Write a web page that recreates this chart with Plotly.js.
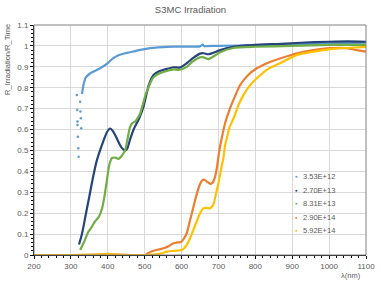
<!DOCTYPE html>
<html><head><meta charset="utf-8">
<script src="https://cdn.plot.ly/plotly-3.0.1.min.js"></script>
<style>html,body{margin:0;padding:0;background:#fff}#c{width:381px;height:283px}</style>
</head><body><div id="c"></div>
<script>
const names = ["3.53E+12","2.70E+13","8.31E+13","2.90E+14","5.92E+14"];
const colors = ["#5B9BD5","#264478","#70AD47","#ED7D31","#FFC000"];

const s1NoiseX = [316,317,318,318,319,320,321,325,326,327,328];
const s1NoiseY = [0.765,0.694,0.638,0.622,0.566,0.51,0.47,0.733,0.686,0.654,0.606];
const s1X = [330,335,340,345,352,360,370,379,390,400,406,415,425,433,445,455,469,485,500,515,530,560,600,650,658,662,666,700,800,900,1000,1100];
const s1Y = [0.77,0.82,0.848,0.858,0.868,0.876,0.885,0.893,0.905,0.918,0.928,0.942,0.952,0.958,0.964,0.968,0.973,0.98,0.985,0.989,0.992,0.995,0.997,0.998,1.006,0.998,0.999,1.0,1.004,1.008,1.012,1.015];

const s2X = [322,330,340,350,361,370,379,388,397,406,413,420,427,433,440,447,453,460,470,483,490,497,503,510,517,524,533,545,560,578,595,614,630,650,660,673,685,705,740,800,870,922,1000,1050,1100];
const s2Y = [0.05,0.10,0.19,0.28,0.38,0.45,0.50,0.545,0.585,0.605,0.595,0.574,0.548,0.526,0.508,0.50,0.51,0.55,0.60,0.646,0.675,0.71,0.755,0.805,0.84,0.861,0.873,0.882,0.89,0.898,0.896,0.917,0.94,0.963,0.965,0.96,0.966,0.98,0.996,1.005,1.01,1.015,1.02,1.022,1.02];

const s3X = [325,335,347,355,365,375,384,390,397,404,411,420,429,438,447,453,460,467,474,481,488,495,503,510,517,524,533,545,560,578,595,614,630,650,660,673,685,705,740,800,900,1000,1100];
const s3Y = [0.024,0.06,0.11,0.13,0.16,0.18,0.22,0.27,0.35,0.43,0.463,0.466,0.46,0.475,0.50,0.55,0.61,0.632,0.638,0.655,0.678,0.72,0.77,0.80,0.83,0.85,0.862,0.872,0.88,0.888,0.886,0.90,0.925,0.945,0.945,0.937,0.948,0.97,0.99,0.996,1.0,1.005,1.005];

const s4X = [200,300,390,400,410,500,510,520,535,551,565,578,590,600,607,614,623,628,635,641,648,655,662,669,679,685,691,696,700,705,709,718,731,745,759,780,804,835,867,913,958,1003,1048,1075,1100];
const s4Y = [0,0,0.003,0.005,0.003,0,0.01,0.018,0.025,0.032,0.042,0.056,0.06,0.064,0.08,0.104,0.167,0.2,0.25,0.29,0.33,0.355,0.36,0.35,0.34,0.348,0.375,0.42,0.47,0.526,0.56,0.63,0.70,0.76,0.813,0.86,0.893,0.92,0.94,0.965,0.98,0.989,0.989,0.98,0.973];

const s5X = [200,300,390,400,410,500,540,560,580,600,607,614,623,632,641,650,659,668,677,686,693,700,707,714,718,723,730,741,755,768,785,804,835,867,913,958,1003,1048,1100];
const s5Y = [0,0,0.003,0.005,0.003,0,0.005,0.016,0.02,0.024,0.032,0.048,0.08,0.12,0.16,0.2,0.223,0.225,0.223,0.24,0.29,0.343,0.41,0.47,0.526,0.56,0.61,0.654,0.72,0.766,0.81,0.845,0.89,0.917,0.957,0.973,0.985,0.99,0.995];

const xTicks = [200,300,400,500,600,700,800,900,1000,1100];
const yTicks = [0,0.1,0.2,0.3,0.4,0.5,0.6,0.7,0.8,0.9,1,1.1];

const series = [[s1X,s1Y],[s2X,s2Y],[s3X,s3Y],[s4X,s4Y],[s5X,s5Y]];
const traces = [];
traces.push({x:s1NoiseX,y:s1NoiseY,mode:'markers',marker:{color:colors[0],size:2.5},showlegend:false,hoverinfo:'skip'});
series.forEach((s,i)=>{
  traces.push({x:s[0],y:s[1],mode:'lines',name:names[i],line:{color:colors[i],width:2.2,shape:'spline',smoothing:0.6},showlegend:false});
});

const fam = '"Liberation Sans", Arial, sans-serif';
const font = {family:fam, size:8, color:'#595959'};

// legend built as annotations (inside plot, right side)
const legAnn = [];
names.forEach((n,i)=>{
  const yp = 0.34 - i*0.0585;
  legAnn.push({text:'●',xref:'paper',yref:'paper',x:0.79,y:yp,showarrow:false,xanchor:'center',yanchor:'middle',font:{family:fam,size:4.5,color:colors[i]}});
  legAnn.push({text:n,xref:'paper',yref:'paper',x:0.805,y:yp,showarrow:false,xanchor:'left',yanchor:'middle',font:{family:fam,size:7.5,color:'#595959'}});
});

const layout = {
  width:381,height:283,
  margin:{l:34,r:15,t:25,b:28},
  paper_bgcolor:'#fff',plot_bgcolor:'#fff',
  font:font,showlegend:false,
  title:{text:'S3MC Irradiation',font:{family:fam,size:9.5,color:'#595959'},x:0.5,xanchor:'center',y:0.965,yanchor:'middle'},
  xaxis:{range:[200,1100],tickvals:xTicks,ticktext:xTicks.map(String),showgrid:true,gridcolor:'#d9d9d9',gridwidth:1,
    showline:true,linecolor:'#000',linewidth:1,ticks:'outside',ticklen:3,tickcolor:'#000',zeroline:false,
    minor:{dtick:20,tick0:200,ticks:'outside',ticklen:2,tickcolor:'#000',showgrid:false},tickfont:font},
  yaxis:{range:[0,1.1],tickvals:yTicks,ticktext:yTicks.map(String),showgrid:true,gridcolor:'#d9d9d9',gridwidth:1,
    showline:true,linecolor:'#000',linewidth:1,ticks:'outside',ticklen:3,tickcolor:'#000',zeroline:false,
    minor:{dtick:0.02,tick0:0,ticks:'outside',ticklen:2,tickcolor:'#000',showgrid:false},tickfont:font},
  shapes:[{type:'rect',xref:'paper',yref:'paper',x0:0,x1:1,y0:0,y1:1,line:{color:'#808080',width:1},layer:'above'}],
  annotations:[
    {text:'R_Irradiation/R_Time',xref:'paper',yref:'paper',x:-0.08,y:0.85,textangle:-90,showarrow:false,font:{family:fam,size:7.5,color:'#595959'},xanchor:'center',yanchor:'middle'},
    {text:'λ(nm)',xref:'paper',yref:'paper',x:0.955,y:-0.087,showarrow:false,font:{family:fam,size:7.5,color:'#595959'},xanchor:'center',yanchor:'middle'}
  ].concat(legAnn)
};
Plotly.newPlot('c',traces,layout,{displayModeBar:false,staticPlot:true});
</script></body></html>
